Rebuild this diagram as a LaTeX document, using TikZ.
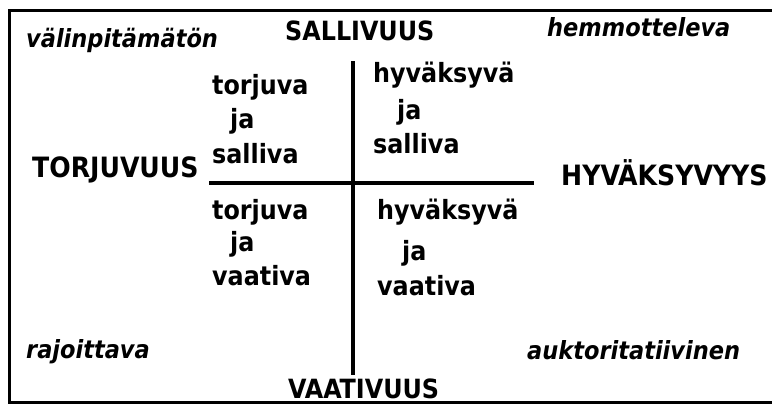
\documentclass[tikz,border=0pt]{standalone}
\usepackage{fontspec}
\setmainfont{DejaVu Sans Condensed}
\usepackage{tikz}
\usetikzlibrary{positioning}

\begin{document}
\begin{tikzpicture}[x=1pt, y=-1pt, line cap=rect,
    axis/.style={line width=3.5pt},
    pole/.style={anchor=base west, inner sep=0pt, font=\fontsize{26.5}{30}\selectfont\bfseries},
    widepole/.style={pole, font=\fontsize{28}{32}\selectfont\bfseries},
    cell/.style={anchor=base west, inner sep=0pt, font=\fontsize{26.5}{30}\selectfont\bfseries},
    mood/.style={anchor=base west, inner sep=0pt, font=\fontsize{25}{29}\selectfont\bfseries\itshape}]
  \useasboundingbox (0,0) rectangle (772,405);
  % frame, open on the right
  \draw[line width=3pt] (772,10) -- (9,10) -- (9,402) -- (772,402);
  % axes
  \coordinate (axtop) at (353,63);
  \coordinate (axbot) at (353,373);
  \coordinate (axlft) at (211,183);
  \coordinate (axrgt) at (532,183);
  \draw[axis] (axtop) -- (axbot);
  \draw[axis] (axlft) -- (axrgt);
  % poles of the two dimensions
  \node[pole] (salliv) at (285,40)  {SALLIVUUS};
  \node[pole] (vaativ) at (288,398) {VAATIVUUS};
  \node[widepole] (torjuv) at (32,177)  {TORJUVUUS};
  \node[widepole] (hyvaks) at (561,185) {HYVÄKSYVYYS};
  % parenting styles in the corners
  \node[mood] (valinp) at (26,47)   {välinpitämätön};
  \node[mood] (hemmot) at (547,36)  {hemmotteleva};
  \node[mood] (rajoit) at (26,358)  {rajoittava};
  \node[mood] (auktor) at (527,359) {auktoritatiivinen};
  % quadrants
  \node[cell] (tlA) at (212,94)  {torjuva};
  \node[cell] (tlB) at (230,128) {ja};
  \node[cell] (tlC) at (212,163) {salliva};
  \node[cell] (trA) at (373,82)  {hyväksyvä};
  \node[cell] (trB) at (397,119) {ja};
  \node[cell] (trC) at (373,153) {salliva};
  \node[cell] (blA) at (212,219) {torjuva};
  \node[cell] (blB) at (230,251) {ja};
  \node[cell] (blC) at (212,285) {vaativa};
  \node[cell] (brA) at (377,219) {hyväksyvä};
  \node[cell] (brB) at (402,260) {ja};
  \node[cell] (brC) at (377,295) {vaativa};
\end{tikzpicture}
\end{document}
